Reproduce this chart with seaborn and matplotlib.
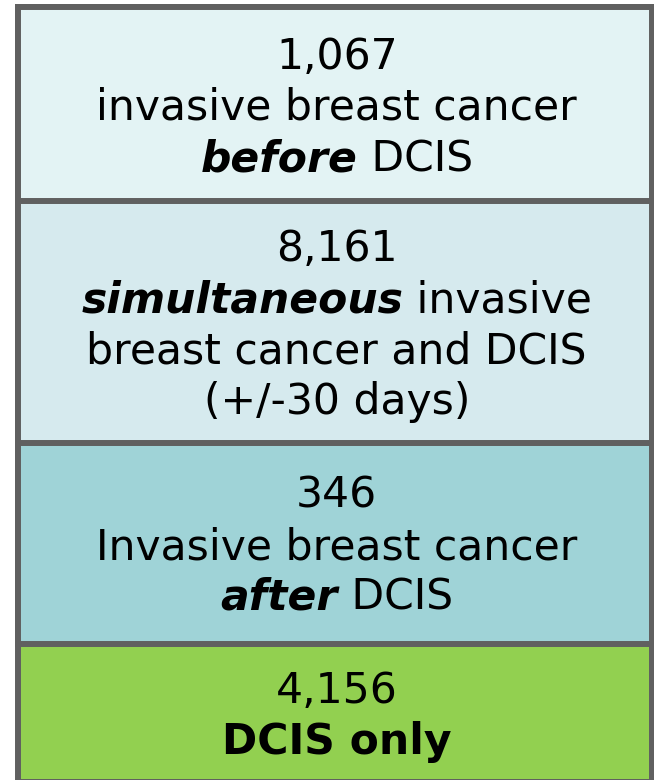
import matplotlib
matplotlib.use("Agg")
import matplotlib.pyplot as plt
from matplotlib.transforms import offset_copy
import seaborn as sns

# data
counts = [1067, 8161, 346, 4156]
# each line is a list of (text, weight, style) pieces
descr = [
    [[("invasive breast cancer", "normal", "normal")],
     [("before", "bold", "italic"), (" DCIS", "normal", "normal")]],
    [[("simultaneous", "bold", "italic"), (" invasive", "normal", "normal")],
     [("breast cancer and DCIS", "normal", "normal")],
     [("(+/-30 days)", "normal", "normal")]],
    [[("Invasive breast cancer", "normal", "normal")],
     [("after", "bold", "italic"), (" DCIS", "normal", "normal")]],
    [[("DCIS only", "bold", "normal")]],
]
box_colors = ["#E3F3F4", "#D6EAEE", "#9FD3D7", "#92D050"]

# layout (pixels)
box_px = [194, 241.5, 201, 138]
line_h = 51
half_cap = 16

sns.set_theme(style="white")
plt.rcParams["font.family"] = ["DejaVu Sans"]

W, H = 654, 780
fig = plt.figure(figsize=(W / 100, H / 100), dpi=100)
fig.patch.set_facecolor("white")
ax = fig.add_axes([0, 0, 1, 1])

cum = []
s = 0
for h in box_px:
    s += h
    cum.append(s)

# stacked look: draw longest bar first, shorter ones on top
for i in reversed(range(len(counts))):
    sns.barplot(x=[0], y=[cum[i]], color=box_colors[i], saturation=1,
                width=1, edgecolor="#606060", linewidth=4.3, ax=ax)

unit = 633.5
ax.set_xlim(-0.5 - 18 / unit, 0.5 + 2.5 / unit)
ax.set_ylim(H - 7, -7)
ax.set_axis_off()

renderer = fig.canvas.get_renderer()
fs = 30.6
for i, n in enumerate(counts):
    lines = [[(f"{n:,}", "normal", "normal")]] + descr[i]
    top = cum[i] - box_px[i]
    mid = top + box_px[i] / 2
    k = len(lines)
    for j, line in enumerate(lines):
        y = mid + (j - (k - 1) / 2) * line_h + half_cap
        texts = []
        for txt, wt, st in line:
            t = ax.text(0, y, txt, fontsize=fs, fontweight=wt, fontstyle=st,
                        ha="left", va="baseline", color="black")
            texts.append(t)
        widths = [t.get_window_extent(renderer).width for t in texts]
        x0 = -sum(widths) / 2 + 2
        for t, w in zip(texts, widths):
            t.set_transform(offset_copy(ax.transData, fig=fig, x=x0, y=0, units="dots"))
            x0 += w

fig.savefig("out.png", dpi=100)
